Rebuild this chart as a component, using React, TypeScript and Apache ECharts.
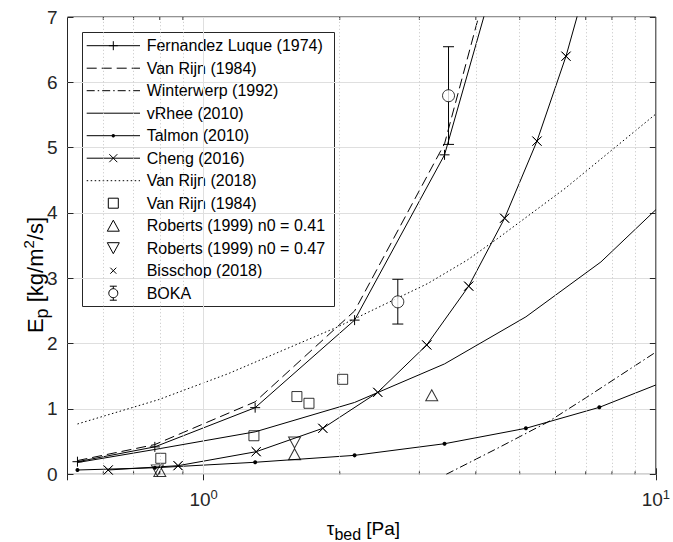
import React, { useEffect, useRef } from 'react';
import * as echarts from 'echarts';

const FONT = '"Liberation Sans", Arial, Helvetica, sans-serif';
const INK = '#000000';
const AXIS = '#262626';

// ---- data (tau_bed [Pa], E_p [kg/m2/s]) ----
const flTau = [0.526, 0.78, 1.3, 2.157, 3.41, 5.0];
const flE = [0.193, 0.42, 1.02, 2.36, 4.89, 8.93];

const vr84Tau = [0.526, 0.78, 1.3, 2.157, 3.41, 5.0];
const vr84E = [0.21, 0.455, 1.11, 2.5, 5.06, 9.35];

const wwTau = [3.44, 4.47, 5.77, 7.0, 10];
const wwE = [0, 0.4, 0.8, 1.17, 1.87];

const vrhTau = [0.526, 0.78, 1.3, 2.157, 3.41, 5.16, 7.56, 10];
const vrhE = [0.18, 0.38, 0.65, 1.1, 1.69, 2.41, 3.25, 4.05];

const talTau = [0.526, 0.78, 1.3, 2.157, 3.41, 5.16, 7.5, 10];
const talE = [0.066, 0.1, 0.184, 0.29, 0.468, 0.704, 1.025, 1.367];

const chTau = [0.615, 0.878, 1.307, 1.835, 2.427, 3.115, 3.857, 4.63, 5.46, 6.33, 7.3];
const chE = [0.066, 0.132, 0.346, 0.704, 1.255, 1.98, 2.88, 3.92, 5.1, 6.4, 7.93];

const vr18Tau = [0.526, 0.793, 1.133, 1.985, 3.13, 3.83, 4.47, 6.31, 10];
const vr18E = [0.77, 1.14, 1.54, 2.26, 2.92, 3.28, 3.61, 4.38, 5.515];

const sqTau = [0.804, 1.292, 1.608, 1.71, 2.03];
const sqE = [0.245, 0.59, 1.19, 1.087, 1.454];

const rob41Tau = [0.8, 1.589, 3.195];
const rob41E = [0.05, 0.308, 1.21];

const rob47Tau = [0.79, 1.589];
const rob47E = [0.06, 0.487];

const bisTau = [0.615, 0.878, 1.307, 1.835, 2.427, 3.115, 3.857, 4.63, 5.46, 6.33];
const bisE = [0.066, 0.132, 0.346, 0.704, 1.255, 1.98, 2.88, 3.92, 5.1, 6.4];

const bokaTau = [2.688, 3.48];
const bokaE = [2.64, 5.795];
const bokaLow = [2.3, 5.05];
const bokaHigh = [2.985, 6.545];

const minorX = [0.6, 0.7, 0.8, 0.9, 2, 3, 4, 5, 6, 7, 8, 9];
const majorX = [1];

const legendNames = [
  'Fernandez Luque (1974)',
  'Van Rijn (1984)',
  'Winterwerp (1992)',
  'vRhee (2010)',
  'Talmon (2010)',
  'Cheng (2016)',
  'Van Rijn (2018)',
  'Van Rijn (1984)',
  'Roberts (1999) n0 = 0.41',
  'Roberts (1999) n0 = 0.47',
  'Bisschop (2018)',
  'BOKA',
];

// ---- helpers ----
const Y_MAX = 7;
const zip = (t: number[], e: number[]) =>
  t.map((v, i) => (e[i] > Y_MAX ? { value: [v, e[i]], symbol: 'none' } : [v, e[i]]));

const PLUS = 'path://M5,0L5,10M0,5L10,5';
const CROSS = 'path://M0,0L10,10M10,0L0,10';
const DASH = [10, 5];
const DASHDOT = [8, 3, 1.5, 3];
const DOT = [1.5, 2.5];

const hollow = { color: 'transparent', borderColor: INK, borderWidth: 1 };

function lineSeries(name: string, data: any[], lineType: any, symbol: string, symbolSize: any, itemStyle: any, extra: any = {}) {
  return {
    type: 'line',
    name,
    data,
    symbol,
    showSymbol: symbol !== 'none',
    symbolSize,
    lineStyle: { color: INK, width: 1, type: lineType },
    itemStyle,
    emphasis: { disabled: true },
    silent: true,
    z: 3,
    ...extra,
  };
}

function scatterSeries(name: string, data: any[], symbol: string, symbolSize: any, extra: any = {}) {
  return {
    type: 'scatter',
    name,
    data,
    symbol,
    symbolSize,
    itemStyle: hollow,
    emphasis: { disabled: true },
    silent: true,
    z: 4,
    ...extra,
  };
}

// ---- legend (graphic) ----
const LG = { x: 82, y: 32, w: 252, h: 274, x1: 86.7, x2: 140, mx: 113.3, tx: 146.7, y0: 45.7, dy: 22.5 };

function legendMarker(kind: string, cx: number, cy: number): any[] {
  const st = { stroke: INK, lineWidth: 1, fill: 'none' };
  switch (kind) {
    case 'plus':
      return [
        { type: 'line', shape: { x1: cx - 4.5, y1: cy, x2: cx + 4.5, y2: cy }, style: st },
        { type: 'line', shape: { x1: cx, y1: cy - 4.5, x2: cx, y2: cy + 4.5 }, style: st },
      ];
    case 'cross':
      return [
        { type: 'line', shape: { x1: cx - 4, y1: cy - 4, x2: cx + 4, y2: cy + 4 }, style: st },
        { type: 'line', shape: { x1: cx - 4, y1: cy + 4, x2: cx + 4, y2: cy - 4 }, style: st },
      ];
    case 'smallcross':
      return [
        { type: 'line', shape: { x1: cx - 3, y1: cy - 3, x2: cx + 3, y2: cy + 3 }, style: st },
        { type: 'line', shape: { x1: cx - 3, y1: cy + 3, x2: cx + 3, y2: cy - 3 }, style: st },
      ];
    case 'dot':
      return [{ type: 'circle', shape: { cx, cy, r: 1.7 }, style: { fill: INK } }];
    case 'square':
      return [{ type: 'rect', shape: { x: cx - 5, y: cy - 5, width: 10, height: 10 }, style: st }];
    case 'tup':
      return [{ type: 'polygon', shape: { points: [[cx, cy - 5.5], [cx + 6, cy + 5.5], [cx - 6, cy + 5.5]] }, style: st }];
    case 'tdown':
      return [{ type: 'polygon', shape: { points: [[cx, cy + 5.5], [cx + 6, cy - 5.5], [cx - 6, cy - 5.5]] }, style: st }];
    case 'phi':
      return [
        { type: 'line', shape: { x1: cx - 3.5, y1: cy - 7, x2: cx + 3.5, y2: cy - 7 }, style: st },
        { type: 'line', shape: { x1: cx, y1: cy - 7, x2: cx, y2: cy + 7 }, style: st },
        { type: 'line', shape: { x1: cx - 3.5, y1: cy + 7, x2: cx + 3.5, y2: cy + 7 }, style: st },
        { type: 'circle', shape: { cx, cy, r: 4.5 }, style: { stroke: INK, lineWidth: 1, fill: '#fff' } },
      ];
    default:
      return [];
  }
}

const legendSpec: { line: any; marker: string }[] = [
  { line: 'solid', marker: 'plus' },
  { line: DASH, marker: '' },
  { line: DASHDOT, marker: '' },
  { line: 'solid', marker: '' },
  { line: 'solid', marker: 'dot' },
  { line: 'solid', marker: 'cross' },
  { line: DOT, marker: '' },
  { line: null, marker: 'square' },
  { line: null, marker: 'tup' },
  { line: null, marker: 'tdown' },
  { line: null, marker: 'smallcross' },
  { line: null, marker: 'phi' },
];

function buildLegend() {
  const children: any[] = [
    {
      type: 'rect',
      shape: { x: LG.x + 0.5, y: LG.y + 0.5, width: LG.w, height: LG.h },
      style: { fill: '#ffffff', stroke: AXIS, lineWidth: 1 },
    },
  ];
  legendNames.forEach((name, i) => {
    const cy = LG.y0 + LG.dy * i;
    const spec = legendSpec[i];
    if (spec.line) {
      const dash = spec.line === 'solid' ? null : spec.line;
      children.push({
        type: 'line',
        shape: { x1: LG.x1, y1: cy, x2: LG.x2, y2: cy },
        style: { stroke: INK, lineWidth: 1, lineDash: dash },
      });
    }
    children.push(...legendMarker(spec.marker, LG.mx, cy));
    children.push({
      type: 'text',
      x: LG.tx,
      y: cy,
      style: { text: name, fontSize: 16, fontFamily: FONT, fill: INK, align: 'left', verticalAlign: 'middle' },
    });
  });
  return { type: 'group', z: 100, children };
}

function buildOption(): any {
  const xRich = {
    t: { fontSize: 19, fontFamily: FONT, color: AXIS },
    sub: { fontSize: 16, fontFamily: FONT, color: AXIS, padding: [12, 0, 0, 0] },
  };
  const yRich = {
    t: { fontSize: 22, fontFamily: FONT, color: AXIS },
    sub: { fontSize: 18, fontFamily: FONT, color: AXIS, padding: [13, 0, 0, 0] },
    sup: { fontSize: 15, fontFamily: FONT, color: AXIS, padding: [0, 0, 13, 0] },
  };

  const xCommon = {
    type: 'log',
    logBase: 10,
    min: 0.5,
    max: 10,
    axisLine: { show: false },
    splitLine: { show: false },
    minorTick: { show: false },
  };
  const yCommon = {
    type: 'value',
    min: 0,
    max: 7,
    interval: 1,
    axisLine: { show: false },
  };

  return {
    animation: false,
    backgroundColor: '#ffffff',
    grid: { left: 67.5, right: 14.7, top: 17, bottom: 67.7, show: true, borderColor: AXIS, borderWidth: 1, backgroundColor: 'transparent' },
    xAxis: [
      {
        ...xCommon,
        position: 'bottom',
        axisTick: { show: true, inside: true, length: 6, lineStyle: { color: AXIS } },
        axisLabel: {
          margin: 14,
          formatter: (v: number) => {
            const l = Math.log10(v);
            const r = Math.round(l);
            return Math.abs(l - r) < 1e-6 ? `{b|10}{s|${r}}` : '';
          },
          rich: {
            b: { fontSize: 19, fontFamily: FONT, color: AXIS },
            s: { fontSize: 13, fontFamily: FONT, color: AXIS, padding: [0, 0, 10, 0] },
          },
        },
      },
      {
        ...xCommon,
        position: 'top',
        axisTick: { show: true, inside: true, length: 6, lineStyle: { color: AXIS } },
        axisLabel: { show: false },
      },
    ],
    yAxis: [
      {
        ...yCommon,
        position: 'left',
        axisTick: { show: true, inside: true, length: 6, lineStyle: { color: AXIS } },
        axisLabel: { fontSize: 19, fontFamily: FONT, color: AXIS, margin: 10 },
        splitLine: { show: true, lineStyle: { color: '#dfdfdf', width: 1 } },
      },
      {
        ...yCommon,
        position: 'right',
        axisTick: { show: true, inside: true, length: 6, lineStyle: { color: AXIS } },
        axisLabel: { show: false },
        splitLine: { show: false },
      },
    ],
    graphic: [
      buildLegend(),
      {
        type: 'text',
        x: 363.5,
        y: 528,
        z: 50,
        style: {
          text: '{t|τ}{sub|bed}{t| [Pa]}',
          rich: xRich,
          align: 'center',
          verticalAlign: 'middle',
        },
      },
      {
        type: 'text',
        x: 35,
        y: 275,
        rotation: Math.PI / 2,
        z: 50,
        style: {
          text: '{t|E}{sub|p}{t| [kg/m}{sup|2}{t|/s]}',
          rich: yRich,
          align: 'center',
          verticalAlign: 'middle',
        },
      },
    ],
    series: [
      // vertical grid lines (minor dotted, major solid)
      {
        type: 'line',
        name: '_grid',
        data: [],
        silent: true,
        z: 1,
        markLine: {
          silent: true,
          symbol: ['none', 'none'],
          label: { show: false },
          emphasis: { disabled: true },
          data: [
            ...minorX.map((v) => ({ xAxis: v, lineStyle: { type: [1, 2.5], color: '#c4c4c4', width: 1 } })),
            ...majorX.map((v) => ({ xAxis: v, lineStyle: { type: 'solid', color: '#dfdfdf', width: 1 } })),
          ],
        },
      },
      // minor ticks on log axis
      {
        type: 'custom',
        name: '_minorTicks',
        silent: true,
        z: 2,
        data: minorX.map((v) => [v, 0]),
        renderItem: (_p: any, api: any) => {
          const v = api.value(0);
          const b = api.coord([v, 0]);
          const t = api.coord([v, Y_MAX]);
          const st = { stroke: AXIS, lineWidth: 1 };
          return {
            type: 'group',
            children: [
              { type: 'line', shape: { x1: b[0], y1: b[1], x2: b[0], y2: b[1] - 3 }, style: st },
              { type: 'line', shape: { x1: t[0], y1: t[1], x2: t[0], y2: t[1] + 3 }, style: st },
            ],
          };
        },
      },
      lineSeries(legendNames[0], zip(flTau, flE), 'solid', PLUS, 10, hollow),
      lineSeries(legendNames[1], zip(vr84Tau, vr84E), DASH, 'none', 0, { color: INK }),
      lineSeries(legendNames[2], zip(wwTau, wwE), DASHDOT, 'none', 0, { color: INK }),
      lineSeries(legendNames[3], zip(vrhTau, vrhE), 'solid', 'none', 0, { color: INK }),
      lineSeries(
        legendNames[4],
        zip(talTau, talE).map((p: any, i: number) => (talTau[i] >= 10 ? { value: p, symbol: 'none' } : p)),
        'solid',
        'circle',
        4,
        { color: INK }
      ),
      lineSeries(legendNames[5], zip(chTau, chE), 'solid', CROSS, 9, hollow),
      lineSeries(legendNames[6], zip(vr18Tau, vr18E), DOT, 'none', 0, { color: INK }),
      scatterSeries('Van Rijn (1984) data', zip(sqTau, sqE), 'rect', 10),
      scatterSeries(legendNames[8], zip(rob41Tau, rob41E), 'triangle', [12, 11]),
      scatterSeries(legendNames[9], zip(rob47Tau, rob47E), 'triangle', [12, 11], { symbolRotate: 180 }),
      scatterSeries(legendNames[10], zip(bisTau, bisE), CROSS, 9),
      // BOKA error bars
      {
        type: 'custom',
        name: 'BOKA error',
        silent: true,
        z: 4,
        data: bokaTau.map((t, i) => [t, bokaLow[i], bokaHigh[i]]),
        encode: { x: 0, y: [1, 2] },
        renderItem: (_p: any, api: any) => {
          const x = api.value(0);
          const lo = api.coord([x, api.value(1)]);
          const hi = api.coord([x, api.value(2)]);
          const w = 5.5;
          const st = { stroke: INK, lineWidth: 1 };
          return {
            type: 'group',
            children: [
              { type: 'line', shape: { x1: lo[0], y1: lo[1], x2: hi[0], y2: hi[1] }, style: st },
              { type: 'line', shape: { x1: lo[0] - w, y1: lo[1], x2: lo[0] + w, y2: lo[1] }, style: st },
              { type: 'line', shape: { x1: hi[0] - w, y1: hi[1], x2: hi[0] + w, y2: hi[1] }, style: st },
            ],
          };
        },
      },
      scatterSeries(legendNames[11], zip(bokaTau, bokaE), 'circle', 12, {
        itemStyle: { color: '#ffffff', borderColor: INK, borderWidth: 1 },
        z: 5,
      }),
    ],
  };
}

export default function App() {
  const ref = useRef<HTMLDivElement>(null);
  useEffect(() => {
    if (!ref.current) return;
    const chart = echarts.init(ref.current, undefined, { renderer: 'svg' });
    chart.setOption(buildOption());
    return () => chart.dispose();
  }, []);
  return (
    <div
      ref={ref}
      style={{ position: 'absolute', left: 0, top: 0, width: 673, height: 542, background: '#ffffff' }}
    />
  );
}
